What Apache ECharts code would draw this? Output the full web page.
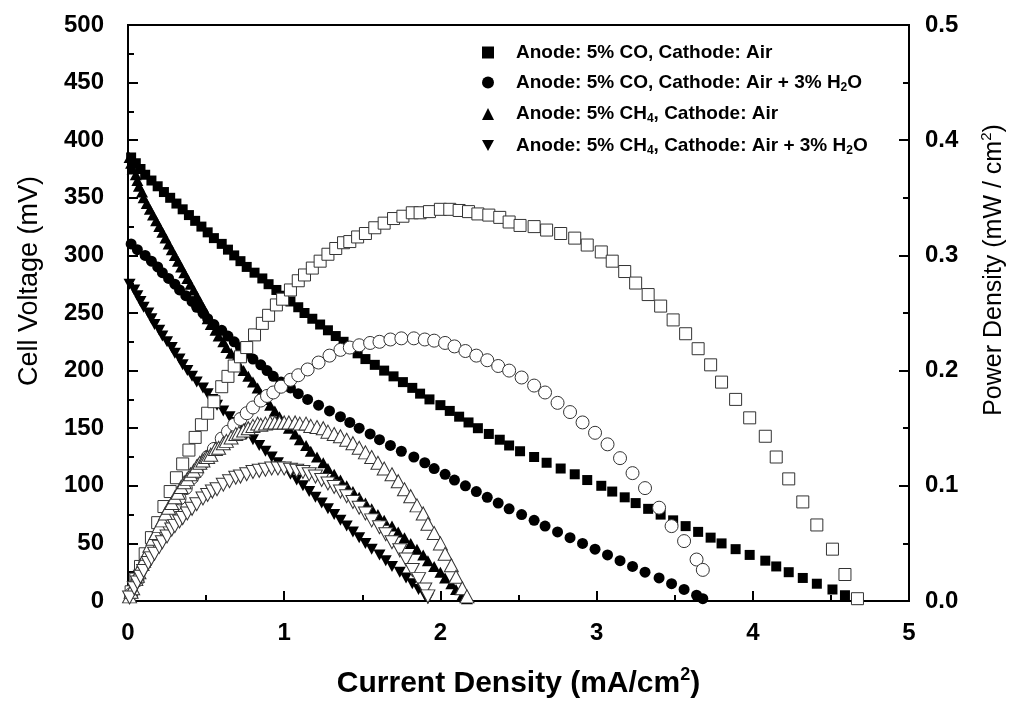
<!DOCTYPE html>
<html>
<head>
<meta charset="utf-8">
<script src="https://cdn.jsdelivr.net/npm/echarts@6/dist/echarts.min.js"></script>
<style>
  html, body { margin: 0; padding: 0; background: #fff; }
  #chart { width: 1013px; height: 704px; }
</style>
</head>
<body>
<div id="chart"></div>
<script>
// Polarization data: current density (mA/cm2), cell voltage (mV), power density (mW/cm2)

// Anode: 5% CO, Cathode: Air
const currentCoAir = [0.02,0.05,0.08,0.11,0.15,0.19,0.23,0.27,0.31,0.35,0.39,0.43,0.47,0.51,0.55,0.60,0.64,0.68,0.72,0.76,0.81,0.86,0.90,0.95,0.99,1.04,1.09,1.13,1.18,1.23,1.28,1.33,1.38,1.42,1.47,1.52,1.58,1.64,1.70,1.76,1.82,1.87,1.93,2.00,2.06,2.12,2.18,2.24,2.31,2.38,2.44,2.51,2.60,2.68,2.77,2.86,2.94,3.03,3.10,3.18,3.25,3.33,3.41,3.49,3.57,3.65,3.73,3.80,3.89,3.98,4.08,4.15,4.23,4.32,4.41,4.51,4.59,4.67];
const voltageCoAir = [385,380,375,370,365,360,355,350,345,340,335,330,325,320,315,310,305,300,295,290,285,280,275,270,265,260,255,250,245,240,235,230,225,220,215,210,205,200,195,190,185,180,175,170,165,160,155,150,145,140,135,130,125,120,115,110,105,100,95,90,85,80,75,70,65,60,55,50,45,40,35,30,25,20,15,10,5,1];
const powerCoAir = [0.008,0.019,0.030,0.041,0.055,0.068,0.082,0.095,0.107,0.119,0.131,0.142,0.153,0.163,0.173,0.186,0.195,0.204,0.212,0.220,0.231,0.241,0.248,0.257,0.262,0.270,0.278,0.283,0.289,0.295,0.301,0.306,0.311,0.312,0.316,0.319,0.324,0.328,0.332,0.334,0.337,0.337,0.338,0.340,0.340,0.339,0.338,0.336,0.335,0.333,0.329,0.326,0.325,0.322,0.319,0.315,0.309,0.303,0.295,0.286,0.276,0.266,0.256,0.244,0.232,0.219,0.205,0.190,0.175,0.159,0.143,0.125,0.106,0.086,0.066,0.045,0.023,0.002];

// Anode: 5% CO, Cathode: Air + 3% H2O
const currentCoWet = [0.02,0.06,0.11,0.15,0.19,0.22,0.26,0.30,0.33,0.37,0.41,0.44,0.48,0.51,0.55,0.60,0.64,0.68,0.72,0.76,0.80,0.85,0.89,0.93,0.98,1.04,1.09,1.15,1.22,1.29,1.36,1.42,1.48,1.55,1.61,1.68,1.75,1.83,1.90,1.96,2.03,2.09,2.16,2.23,2.30,2.37,2.44,2.52,2.60,2.67,2.75,2.83,2.91,2.99,3.07,3.15,3.23,3.31,3.40,3.48,3.56,3.64,3.68];
const voltageCoWet = [310,305,300,295,290,285,280,275,270,265,260,255,250,245,240,235,230,225,220,215,210,205,200,195,190,185,180,175,170,165,160,155,150,145,140,135,130,125,120,115,110,105,100,95,90,85,80,75,70,65,60,55,50,45,40,35,30,25,20,15,10,5,2];
const powerCoWet = [0.006,0.018,0.033,0.044,0.055,0.063,0.073,0.083,0.089,0.098,0.107,0.112,0.120,0.125,0.132,0.141,0.147,0.153,0.158,0.163,0.168,0.174,0.178,0.181,0.186,0.192,0.196,0.201,0.207,0.213,0.218,0.220,0.222,0.224,0.225,0.227,0.228,0.228,0.227,0.226,0.224,0.221,0.217,0.213,0.209,0.204,0.200,0.194,0.187,0.181,0.172,0.164,0.155,0.146,0.136,0.124,0.111,0.098,0.081,0.065,0.052,0.036,0.027];

// Anode: 5% CH4, Cathode: Air
const currentCh4Air = [0.01,0.02,0.03,0.05,0.06,0.07,0.09,0.10,0.12,0.14,0.16,0.18,0.20,0.22,0.24,0.26,0.28,0.30,0.32,0.34,0.36,0.38,0.40,0.42,0.44,0.46,0.48,0.50,0.51,0.53,0.56,0.58,0.61,0.63,0.66,0.69,0.71,0.74,0.77,0.80,0.83,0.85,0.88,0.91,0.94,0.97,1.00,1.03,1.07,1.10,1.14,1.17,1.21,1.25,1.28,1.32,1.36,1.40,1.44,1.48,1.52,1.56,1.60,1.64,1.69,1.73,1.77,1.81,1.85,1.89,1.92,1.96,2.00,2.03,2.07,2.10,2.14,2.17];
const voltageCh4Air = [385,380,375,370,365,360,355,350,345,340,335,330,325,320,315,310,305,300,295,290,285,280,275,270,265,260,255,250,245,240,235,230,225,220,215,210,205,200,195,190,185,180,175,170,165,160,155,150,145,140,135,130,125,120,115,110,105,100,95,90,85,80,75,70,65,60,55,50,45,40,35,30,25,20,15,10,5,2];
const powerCh4Air = [0.004,0.008,0.011,0.019,0.022,0.025,0.032,0.035,0.041,0.048,0.054,0.059,0.065,0.070,0.076,0.081,0.085,0.090,0.094,0.099,0.103,0.106,0.110,0.113,0.117,0.120,0.122,0.125,0.125,0.127,0.132,0.133,0.137,0.139,0.142,0.145,0.146,0.148,0.150,0.152,0.154,0.153,0.154,0.155,0.155,0.155,0.155,0.155,0.155,0.154,0.154,0.152,0.151,0.150,0.147,0.145,0.143,0.140,0.137,0.133,0.129,0.125,0.120,0.115,0.110,0.104,0.097,0.091,0.083,0.076,0.067,0.059,0.050,0.041,0.031,0.021,0.011,0.004];

// Anode: 5% CH4, Cathode: Air + 3% H2O
const currentCh4Wet = [0.01,0.04,0.06,0.08,0.10,0.13,0.15,0.17,0.20,0.22,0.25,0.28,0.30,0.33,0.35,0.38,0.41,0.44,0.48,0.51,0.54,0.57,0.61,0.65,0.69,0.72,0.76,0.80,0.84,0.88,0.92,0.96,1.00,1.04,1.08,1.12,1.16,1.20,1.24,1.28,1.32,1.36,1.40,1.44,1.48,1.52,1.56,1.61,1.65,1.69,1.74,1.78,1.82,1.86,1.90,1.92];
const voltageCh4Wet = [275,270,265,260,255,250,245,240,235,230,225,220,215,210,205,200,195,190,185,180,175,170,165,160,155,150,145,140,135,130,125,120,115,110,105,100,95,90,85,80,75,70,65,60,55,50,45,40,35,30,25,20,15,10,5,2];
const powerCh4Wet = [0.003,0.011,0.016,0.021,0.026,0.033,0.037,0.041,0.047,0.051,0.056,0.062,0.065,0.069,0.072,0.076,0.080,0.084,0.089,0.092,0.095,0.097,0.101,0.104,0.107,0.108,0.110,0.112,0.113,0.114,0.115,0.115,0.115,0.114,0.113,0.112,0.110,0.108,0.105,0.102,0.099,0.095,0.091,0.086,0.081,0.076,0.070,0.064,0.058,0.051,0.044,0.036,0.027,0.019,0.010,0.004];

// Axis ticks
const currentTicks = [0, 1, 2, 3, 4, 5];
const voltageTicks = [0, 50, 100, 150, 200, 250, 300, 350, 400, 450, 500];
const powerTicks = [0.0, 0.1, 0.2, 0.3, 0.4, 0.5];

// Legend entries (series names and their rich-text labels)
const seriesNames = [
  'Anode: 5% CO, Cathode: Air',
  'Anode: 5% CO, Cathode: Air + 3% H2O',
  'Anode: 5% CH4, Cathode: Air',
  'Anode: 5% CH4, Cathode: Air + 3% H2O'
];
const legendLabels = [
  '{t|Anode: 5% CO, Cathode: Air}',
  '{t|Anode: 5% CO, Cathode: Air + 3% H}{s|2}{t|O}',
  '{t|Anode: 5% CH}{s|4}{t|, Cathode: Air}',
  '{t|Anode: 5% CH}{s|4}{t|, Cathode: Air + 3% H}{s|2}{t|O}'
];

const FONT = '"Liberation Sans", Arial, Helvetica, sans-serif';

function pairs(xs, ys) { return xs.map((x, i) => [x, ys[i]]); }

const filledStyle = { color: '#000', opacity: 1 };
const openStyle = { color: '#fff', borderColor: '#333', borderWidth: 1, opacity: 1 };

function tickAxisCommon() {
  return {
    type: 'value',
    axisLine: { show: true, onZero: false, lineStyle: { color: '#000', width: 2 } },
    axisTick: { show: true, inside: true, length: 10, lineStyle: { color: '#000', width: 2 } },
    minorTick: { show: true, splitNumber: 2, length: 6, lineStyle: { color: '#000', width: 2 } },
    splitLine: { show: false },
    minorSplitLine: { show: false }
  };
}

const chart = echarts.init(document.getElementById('chart'), null, { renderer: 'canvas' });

const option = {
  animation: false,
  backgroundColor: '#fff',
  grid: { left: 128, right: 104, top: 25, bottom: 103, show: true, borderColor: '#000', borderWidth: 2, backgroundColor: 'transparent' },
  xAxis: Object.assign(tickAxisCommon(), {
    min: currentTicks[0], max: currentTicks[currentTicks.length - 1], interval: 1,
    axisLabel: { margin: 20, fontSize: 24, fontWeight: 'bold', color: '#000', fontFamily: FONT },
    name: '{a|Current Density (mA/cm}{b|2}{a|)}',
    nameLocation: 'middle',
    nameGap: 65,
    nameTextStyle: {
      rich: {
        a: { fontSize: 30, fontWeight: 'bold', fontFamily: FONT, color: '#000', lineHeight: 36 },
        b: { fontSize: 18, fontWeight: 'bold', fontFamily: FONT, color: '#000', lineHeight: 18, verticalAlign: 'top' }
      }
    }
  }),
  yAxis: [
    Object.assign(tickAxisCommon(), {
      position: 'left',
      min: voltageTicks[0], max: voltageTicks[voltageTicks.length - 1], interval: 50,
      axisLabel: { margin: 24, fontSize: 24, fontWeight: 'bold', color: '#000', fontFamily: FONT }
    }),
    Object.assign(tickAxisCommon(), {
      position: 'right',
      min: powerTicks[0], max: powerTicks[powerTicks.length - 1], interval: 0.1,
      axisLabel: { margin: 16, fontSize: 24, fontWeight: 'bold', color: '#000', fontFamily: FONT,
                   formatter: v => v.toFixed(1) }
    })
  ],
  legend: {
    data: [
      { name: seriesNames[0] },
      { name: seriesNames[1] },
      { name: seriesNames[2] },
      { name: seriesNames[3], icon: 'path://M0,0L12,0L6,11Z' }
    ],
    orient: 'vertical',
    left: 477,
    top: 38,
    itemWidth: 12,
    itemHeight: 12,
    itemGap: 11,
    formatter: name => legendLabels[seriesNames.indexOf(name)],
    textStyle: {
      padding: [0, 0, 0, 17],
      rich: {
        t: { fontSize: 19, fontWeight: 'bold', fontFamily: FONT, color: '#000', lineHeight: 22 },
        s: { fontSize: 12, fontWeight: 'bold', fontFamily: FONT, color: '#000', lineHeight: 12, verticalAlign: 'bottom' }
      }
    }
  },
  graphic: [
    {
      type: 'text', x: 30, y: 281, rotation: Math.PI / 2,
      style: { text: 'Cell Voltage (mV)', font: '27px ' + FONT, fill: '#000',
               align: 'center', verticalAlign: 'middle', textAlign: 'center', textVerticalAlign: 'middle' }
    },
    {
      type: 'text', x: 994, y: 270, rotation: Math.PI / 2,
      style: {
        text: '{a|Power Density (mW / cm}{b|2}{a|)}',
        align: 'center', verticalAlign: 'middle', textAlign: 'center', textVerticalAlign: 'middle',
        rich: {
          a: { fontSize: 25, fontFamily: FONT, fill: '#000', color: '#000', lineHeight: 30 },
          b: { fontSize: 15, fontFamily: FONT, fill: '#000', color: '#000', lineHeight: 16, verticalAlign: 'top' }
        }
      }
    }
  ],
  series: [
    { name: seriesNames[0], type: 'scatter', yAxisIndex: 0, symbol: 'rect', symbolSize: 10,
      itemStyle: filledStyle, data: pairs(currentCoAir, voltageCoAir) },
    { name: seriesNames[1], type: 'scatter', yAxisIndex: 0, symbol: 'circle', symbolSize: 11,
      itemStyle: filledStyle, data: pairs(currentCoWet, voltageCoWet) },
    { name: seriesNames[2], type: 'scatter', yAxisIndex: 0, symbol: 'triangle', symbolSize: [12, 11],
      itemStyle: filledStyle, data: pairs(currentCh4Air, voltageCh4Air) },
    { name: seriesNames[3], type: 'scatter', yAxisIndex: 0, symbol: 'triangle', symbolSize: [12, 11], symbolRotate: 180,
      itemStyle: filledStyle, data: pairs(currentCh4Wet, voltageCh4Wet) },

    { name: 'Power CO Air', type: 'scatter', yAxisIndex: 1, symbol: 'rect', symbolSize: 12,
      itemStyle: openStyle, data: pairs(currentCoAir, powerCoAir) },
    { name: 'Power CO Air + H2O', type: 'scatter', yAxisIndex: 1, symbol: 'circle', symbolSize: 13,
      itemStyle: openStyle, data: pairs(currentCoWet, powerCoWet) },
    { name: 'Power CH4 Air', type: 'scatter', yAxisIndex: 1, symbol: 'triangle', symbolSize: [14, 13],
      itemStyle: openStyle, data: pairs(currentCh4Air, powerCh4Air) },
    { name: 'Power CH4 Air + H2O', type: 'scatter', yAxisIndex: 1, symbol: 'triangle', symbolSize: [14, 13], symbolRotate: 180,
      itemStyle: openStyle, data: pairs(currentCh4Wet, powerCh4Wet) }
  ]
};

chart.setOption(option);
</script>
</body>
</html>
